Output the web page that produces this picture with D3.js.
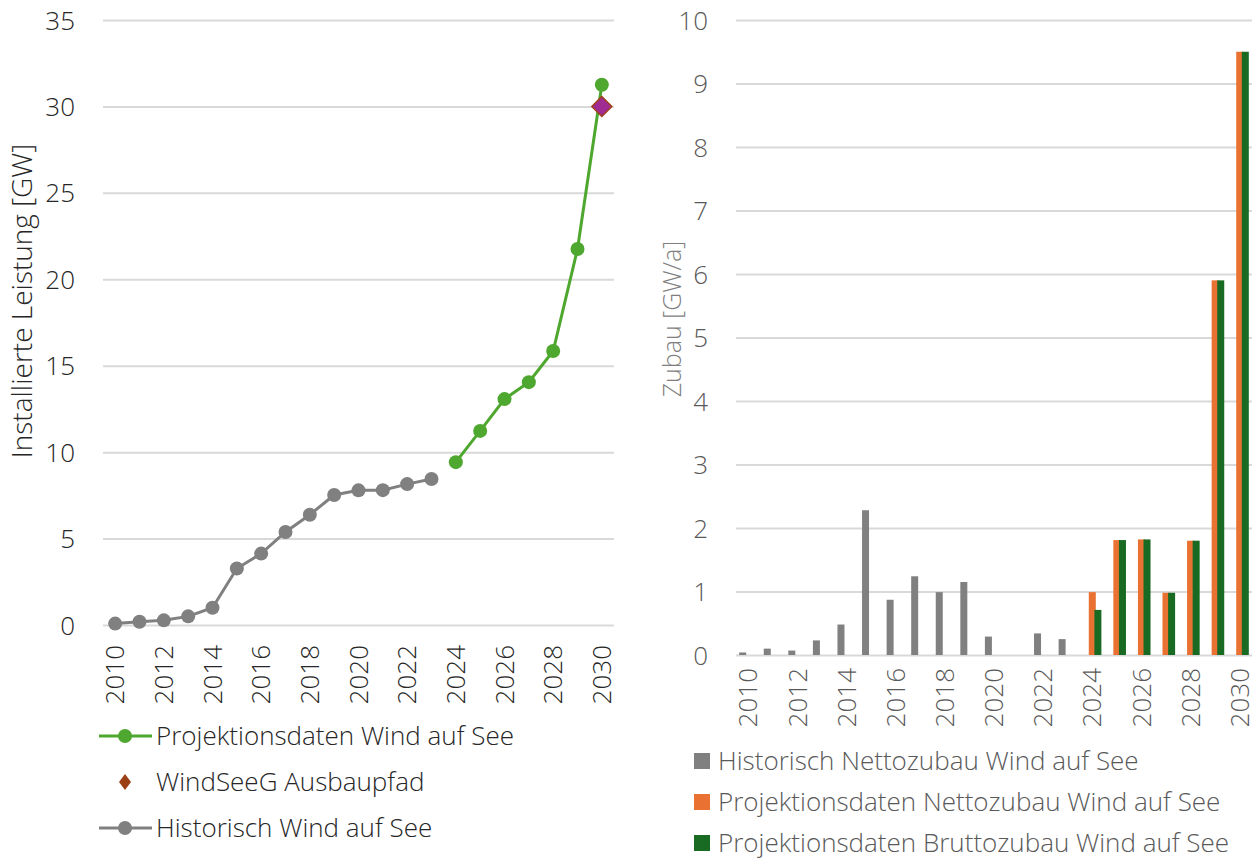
<!DOCTYPE html>
<html>
<head>
<meta charset="utf-8">
<script src="https://cdn.jsdelivr.net/npm/d3@7"></script>
<style>
body { margin: 0; background: #fff; }
svg text { font-family: "Open Sans", sans-serif; font-weight: 300; }
</style>
</head>
<body>
<svg id="chart" width="1259" height="859"></svg>
<script>
// categories
var years = ["2010","2011","2012","2013","2014","2015","2016","2017","2018","2019","2020",
  "2021","2022","2023","2024","2025","2026","2027","2028","2029","2030"];
var yearLabels = ["2010","2012","2014","2016","2018","2020","2022","2024","2026","2028","2030"];

// left: installed capacity [GW]
var histYears = ["2010","2011","2012","2013","2014","2015","2016","2017","2018","2019","2020","2021","2022","2023"];
var histInstalled = [0.08, 0.19, 0.27, 0.5, 1.0, 3.27, 4.13, 5.38, 6.38, 7.52, 7.79, 7.8, 8.15, 8.45];
var projYears = ["2024","2025","2026","2027","2028","2029","2030"];
var projInstalled = [9.42, 11.23, 13.07, 14.05, 15.85, 21.75, 31.25];
var windSeeGYears = ["2030"];
var windSeeG = [30];

// right: yearly additions [GW/a]
var histAdd = [0.04, 0.1, 0.07, 0.23, 0.48, 2.28, 0.87, 1.24, 0.99, 1.15, 0.29, 0, 0.34, 0.25];
var projNet = [0.99, 1.81, 1.82, 0.98, 1.8, 5.9, 9.5];
var projGross = [0.71, 1.81, 1.82, 0.98, 1.8, 5.9, 9.5];

var leftTicks = [0, 5, 10, 15, 20, 25, 30, 35];
var rightTicks = [0, 1, 2, 3, 4, 5, 6, 7, 8, 9, 10];

var green = "#4ea72e", gray = "#808080", orange = "#e97132", dgreen = "#196b24";

var svg = d3.select("#chart");

//---------------- left chart
var x1 = d3.scaleBand().domain(years).range([103, 614]);
var y1 = d3.scaleLinear().domain([0, 35]).range([625, 20]);

var gy1 = svg.append("g").attr("transform", "translate(103,0)")
  .call(d3.axisLeft(y1).tickValues(leftTicks).tickSize(-511).tickPadding(28));
gy1.select(".domain").remove();
gy1.selectAll("line").style("stroke", "#d9d9d9").style("stroke-width", 2);
gy1.selectAll("text").style("font-size", "26px").style("fill", "#262626").attr("dy", "0.35em");

var gx1 = svg.append("g").attr("transform", "translate(0,625)")
  .call(d3.axisBottom(x1).tickValues(yearLabels).tickSize(0));
gx1.select(".domain").remove();
gx1.selectAll("text")
  .style("font-size", "26px").style("fill", "#262626")
  .attr("text-anchor", "end")
  .attr("transform", "rotate(-90)")
  .attr("x", -20).attr("y", 0).attr("dy", "0.35em");

svg.append("text")
  .text("Installierte Leistung [GW]")
  .attr("transform", "translate(22,301) rotate(-90)")
  .attr("text-anchor", "middle").attr("dy", "0.35em")
  .style("font-size", "28px").style("fill", "#262626");

var cx = function (d) { return x1(d) + x1.bandwidth() / 2; };

var lineH = d3.line()
  .x(function (d, i) { return cx(histYears[i]); })
  .y(function (d) { return y1(d); });
svg.append("path").datum(histInstalled).attr("d", lineH)
  .style("fill", "none").style("stroke", gray).style("stroke-width", 3);
svg.selectAll(".hdot").data(histInstalled).enter().append("circle")
  .attr("cx", function (d, i) { return cx(histYears[i]); })
  .attr("cy", function (d) { return y1(d); })
  .attr("r", 7).style("fill", gray);

var lineP = d3.line()
  .x(function (d, i) { return cx(projYears[i]); })
  .y(function (d) { return y1(d); });
svg.append("path").datum(projInstalled).attr("d", lineP)
  .style("fill", "none").style("stroke", green).style("stroke-width", 3);
svg.selectAll(".pdot").data(projInstalled).enter().append("circle")
  .attr("cx", function (d, i) { return cx(projYears[i]); })
  .attr("cy", function (d) { return y1(d); })
  .attr("r", 7).style("fill", green);

svg.selectAll(".wsg").data(windSeeG).enter().append("path")
  .attr("d", "M0,-10L10,0L0,10L-10,0Z")
  .attr("transform", function (d, i) { return "translate(" + cx(windSeeGYears[i]) + "," + y1(d) + ")"; })
  .style("fill", "#a02b93").style("stroke", "#a0401a").style("stroke-width", 1.5);

// left legend
var leg1 = [
  { name: "Projektionsdaten Wind auf See", color: green, type: "line" },
  { name: "WindSeeG Ausbaupfad", color: "#9c3f14", type: "diamond" },
  { name: "Historisch Wind auf See", color: gray, type: "line" }
];
leg1.forEach(function (l, i) {
  var yy = 736 + i * 46;
  if (l.type == "line") {
    svg.append("line").attr("x1", 99).attr("x2", 152).attr("y1", yy).attr("y2", yy)
      .style("stroke", l.color).style("stroke-width", 3);
    svg.append("circle").attr("cx", 125).attr("cy", yy).attr("r", 7).style("fill", l.color);
  } else {
    svg.append("path").attr("d", "M0,-8L6,0L0,8L-6,0Z")
      .attr("transform", "translate(125," + yy + ")").style("fill", l.color);
  }
  svg.append("text").text(l.name).attr("x", 156).attr("y", yy).attr("dy", "0.35em")
    .style("font-size", "26px").style("fill", "#262626");
});

//---------------- right chart
var x2 = d3.scaleBand().domain(years).range([736, 1252]);
var y2 = d3.scaleLinear().domain([0, 10]).range([655, 20]);

var gy2 = svg.append("g").attr("transform", "translate(736,0)")
  .call(d3.axisLeft(y2).tickValues(rightTicks).tickSize(-516).tickPadding(28));
gy2.select(".domain").remove();
gy2.selectAll("line").style("stroke", "#d9d9d9").style("stroke-width", 2);
gy2.selectAll("text").style("font-size", "26px").style("fill", "#595959").attr("dy", "0.35em");

var gx2 = svg.append("g").attr("transform", "translate(0,655)")
  .call(d3.axisBottom(x2).tickValues(yearLabels).tickSize(0));
gx2.select(".domain").remove();
gx2.selectAll("text")
  .style("font-size", "26px").style("fill", "#595959")
  .attr("text-anchor", "end")
  .attr("transform", "rotate(-90)")
  .attr("x", -13).attr("y", 0).attr("dy", "0.35em");

svg.append("text")
  .text("Zubau [GW/a]")
  .attr("transform", "translate(672,319) rotate(-90)")
  .attr("text-anchor", "middle").attr("dy", "0.35em")
  .style("font-size", "25px").style("fill", "#7f7f7f");

var barW = 7;
function barX(year, slot) {
  return x2(year) + x2.bandwidth() / 2 + (slot - 1) * 5.6 - barW / 2;
}

svg.selectAll(".hbar").data(histAdd).enter().append("rect")
  .attr("x", function (d, i) { return barX(histYears[i], 0); })
  .attr("y", function (d) { return y2(d); })
  .attr("width", barW)
  .attr("height", function (d) { return y2(0) - y2(d); })
  .style("fill", gray);
svg.selectAll(".nbar").data(projNet).enter().append("rect")
  .attr("x", function (d, i) { return barX(projYears[i], 1); })
  .attr("y", function (d) { return y2(d); })
  .attr("width", barW)
  .attr("height", function (d) { return y2(0) - y2(d); })
  .style("fill", orange);
svg.selectAll(".gbar").data(projGross).enter().append("rect")
  .attr("x", function (d, i) { return barX(projYears[i], 2); })
  .attr("y", function (d) { return y2(d); })
  .attr("width", barW)
  .attr("height", function (d) { return y2(0) - y2(d); })
  .style("fill", dgreen);

// right legend
var leg2 = [
  { name: "Historisch Nettozubau Wind auf See", color: gray },
  { name: "Projektionsdaten Nettozubau Wind auf See", color: orange },
  { name: "Projektionsdaten Bruttozubau Wind auf See", color: dgreen }
];
leg2.forEach(function (l, i) {
  var yy = 761 + i * 41;
  svg.append("rect").attr("x", 694).attr("y", yy - 8).attr("width", 16).attr("height", 16)
    .style("fill", l.color);
  svg.append("text").text(l.name).attr("x", 718).attr("y", yy).attr("dy", "0.35em")
    .style("font-size", "26px").style("fill", "#595959");
});
</script>
</body>
</html>
